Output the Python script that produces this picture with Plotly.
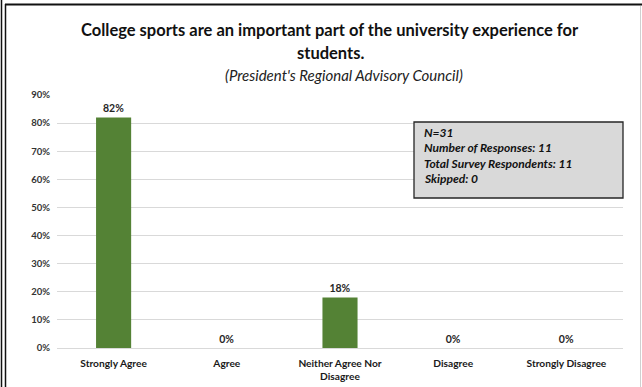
import plotly.graph_objects as go

categories = ["Strongly Agree", "Agree", "Neither Agree Nor<br>Disagree", "Disagree", "Strongly Disagree"]
shares = [0.82, 0.0, 0.18, 0.0, 0.0]
value_labels = ["82%", "0%", "18%", "0%", "0%"]
y_ticks = [0.0, 0.1, 0.2, 0.3, 0.4, 0.5, 0.6, 0.7, 0.8, 0.9]
y_tick_labels = ["0%", "10%", "20%", "30%", "40%", "50%", "60%", "70%", "80%", "90%"]
title_lines = ["College sports are an important part of the university experience for", "students."]
subtitle = "(President's Regional Advisory Council)"
info_lines = ["N=31", "Number of Responses: 11", "Total Survey Respondents: 11", "Skipped: 0"]

W, H = 642, 387
L, R, T, B = 57, 19, 95, 39
PW, PH = W - L - R, H - T - B
FONT = "Lato"


def px(x):
    return (x - L) / PW


def py(y):
    return (H - B - y) / PH


fig = go.Figure()
fig.add_trace(go.Bar(
    x=categories,
    y=shares,
    text=[f"<b>{t}</b>" for t in value_labels],
    textposition="outside",
    textfont=dict(family=FONT, size=10.5, color="#262626"),
    cliponaxis=False,
    marker=dict(color="#548235", line=dict(width=0)),
    width=0.31,
))

shapes = []
# outer frame lines
shapes.append(dict(type="line", xref="paper", yref="paper", x0=px(1.5), x1=px(1.5), y0=py(0), y1=py(H),
                   line=dict(color="#111111", width=1.5)))
shapes.append(dict(type="line", xref="paper", yref="paper", x0=px(5.5), x1=px(5.5), y0=py(4), y1=py(H),
                   line=dict(color="#111111", width=1.5)))
shapes.append(dict(type="line", xref="paper", yref="paper", x0=px(5), x1=px(W), y0=py(4.5), y1=py(4.5),
                   line=dict(color="#111111", width=2)))
shapes.append(dict(type="line", xref="paper", yref="paper", x0=px(640.5), x1=px(640.5), y0=py(6), y1=py(H),
                   line=dict(color="#d0d0d0", width=1)))
# info box
shapes.append(dict(type="rect", xref="paper", yref="paper", x0=px(414), x1=px(623), y0=py(198), y1=py(122),
                   fillcolor="#d9d9d9", line=dict(color="#262626", width=1.3)))

annotations = [
    dict(text="<b>" + title_lines[0] + "</b>", xref="paper", yref="paper",
         x=px(330), y=py(30), xanchor="center", yanchor="middle", showarrow=False,
         font=dict(family=FONT, size=16.5, color="#111111")),
    dict(text="<b>" + title_lines[1] + "</b>", xref="paper", yref="paper",
         x=px(330), y=py(53), xanchor="center", yanchor="middle", showarrow=False,
         font=dict(family=FONT, size=16.5, color="#111111")),
    dict(text="<i>" + subtitle + "</i>", xref="paper", yref="paper",
         x=px(344), y=py(75), xanchor="center", yanchor="middle", showarrow=False,
         font=dict(family=FONT, size=15, color="#222222")),
]
for i, line in enumerate(info_lines):
    annotations.append(dict(text="<b><i>" + line + "</i></b>", xref="paper", yref="paper",
                            x=px(422), y=py(132 + 15.5 * i), xanchor="left", yanchor="middle",
                            showarrow=False, font=dict(family=FONT, size=12, color="#111111")))

fig.update_layout(
    width=W, height=H,
    margin=dict(l=L, r=R, t=T, b=B),
    paper_bgcolor="white", plot_bgcolor="white",
    showlegend=False,
    shapes=shapes,
    annotations=annotations,
    xaxis=dict(
        showgrid=False, showline=False, ticks="", ticklabelstandoff=8,
        tickfont=dict(family=FONT, size=10.2, color="#1a1a1a", weight="bold"),
        fixedrange=True, automargin=False,
    ),
    yaxis=dict(
        range=[0, 0.9], tickvals=y_ticks, ticktext=y_tick_labels,
        showgrid=True, gridcolor="#d9d9d9", gridwidth=1,
        zeroline=True, zerolinecolor="#d9d9d9", zerolinewidth=1,
        showline=False, ticks="", ticklabelstandoff=6,
        tickfont=dict(family=FONT, size=9.5, color="#333333", weight="bold"),
        fixedrange=True, automargin=False,
    ),
)

fig.write_html("out.html")
